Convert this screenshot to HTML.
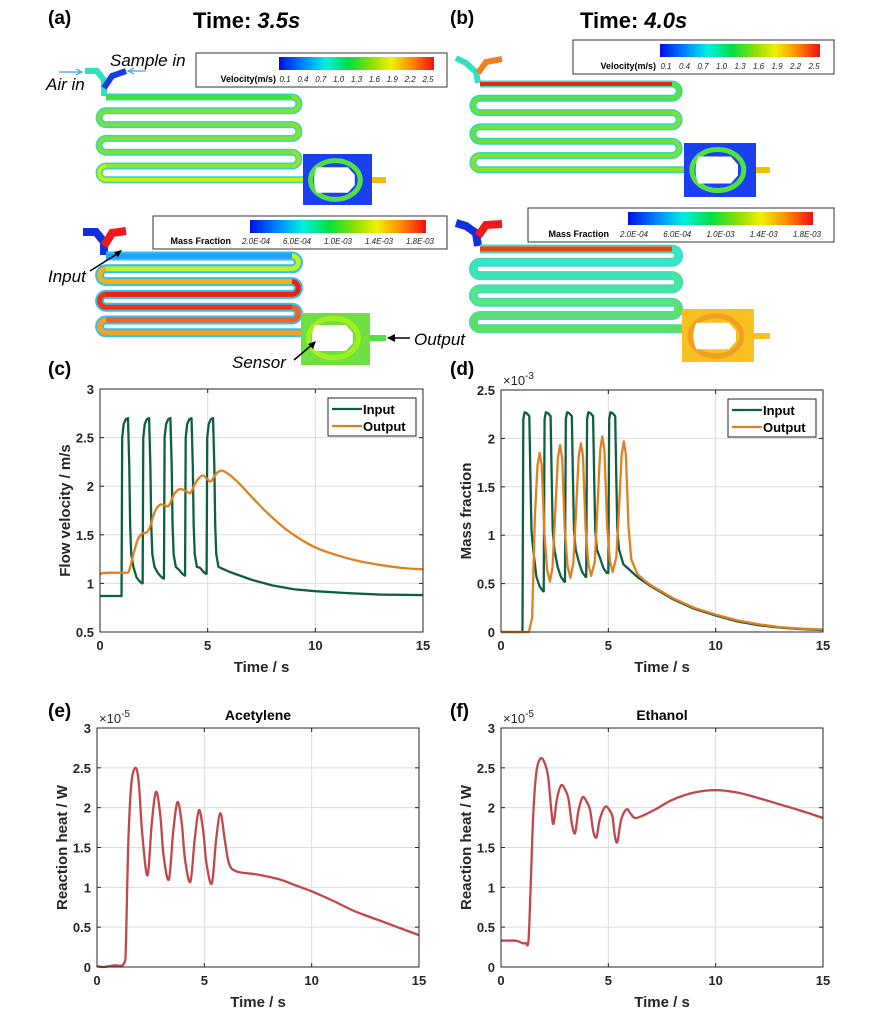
<!DOCTYPE html>
<html><head><meta charset="utf-8"><style>
body{margin:0;background:#fff}
svg{display:block;font-family:"Liberation Sans",Arial,sans-serif}
</style></head><body>
<svg id="s" width="890" height="1014" viewBox="0 0 890 1014" xmlns="http://www.w3.org/2000/svg">
<defs>
<linearGradient id="rb" x1="0" x2="1" y1="0" y2="0">
<stop offset="0" stop-color="#0010e0"/><stop offset="0.15" stop-color="#0080ff"/><stop offset="0.3" stop-color="#00f0e0"/><stop offset="0.45" stop-color="#00e040"/><stop offset="0.6" stop-color="#90e000"/><stop offset="0.72" stop-color="#f0f000"/><stop offset="0.85" stop-color="#ff9000"/><stop offset="1" stop-color="#f01010"/>
</linearGradient>
</defs>
<g font-weight="bold" fill="#000">
<text x="48" y="24" font-size="19">(a)</text>
<text x="450" y="24" font-size="19">(b)</text>
<text x="193" y="28" font-size="22">Time: <tspan font-style="italic">3.5s</tspan></text>
<text x="580" y="28" font-size="22">Time: <tspan font-style="italic">4.0s</tspan></text>
<text x="48" y="375" font-size="19">(c)</text>
<text x="450" y="375" font-size="19">(d)</text>
<text x="48" y="717" font-size="19">(e)</text>
<text x="450" y="717" font-size="19">(f)</text>
</g>
<g id="cfd"></g>
<g id="plots"></g>
</svg>
<script>
const NS="http://www.w3.org/2000/svg";
function el(p,t,a,txt){const e=document.createElementNS(NS,t);for(const k in a)e.setAttribute(k,a[k]);if(txt!==undefined)e.textContent=txt;p.appendChild(e);return e;}
const cfd=document.getElementById('cfd');
function serp(x1,x2,y0,sp,n,w,edge,cols,endX){
  let d=`M${x1} ${y0} H${x2}`;
  for(let i=1;i<n;i++){const y=y0+sp*i;const r=sp/2;
    if(i%2==1){d+=` A${r} ${r} 0 0 1 ${x2} ${y} H${x1}`;}else{d+=` A${r} ${r} 0 0 0 ${x1} ${y} H${i==n-1?endX:x2}`;}
  }
  el(cfd,'path',{d:d,fill:'none',stroke:edge,'stroke-width':w});
  for(let i=0;i<n;i++){const y=y0+sp*i;const xe=(i==n-1)?endX:x2;
    el(cfd,'path',{d:`M${x1} ${y} H${xe}`,fill:'none',stroke:cols[i],'stroke-width':w*0.55});}
  for(let i=1;i<n;i++){const y=y0+sp*(i-1);const r=sp/2;
    const d2=(i%2==1)?`M${x2} ${y} A${r} ${r} 0 0 1 ${x2} ${y+sp}`:`M${x1} ${y} A${r} ${r} 0 0 0 ${x1} ${y+sp}`;
    el(cfd,'path',{d:d2,fill:'none',stroke:cols[i],'stroke-width':w*0.55});}
}
function chamber(x,y,w,h,bg,ring,cy,outC,ox2){
  el(cfd,'rect',{x:x,y:y,width:w,height:h,fill:bg});
  el(cfd,'path',{d:`M${x+w} ${cy} H${ox2}`,stroke:outC,'stroke-width':6});
  el(cfd,'ellipse',{cx:x+w*0.47,cy:cy,rx:w*0.36,ry:h*0.38,fill:'none',stroke:ring,'stroke-width':5});
  el(cfd,'path',{d:`M${x+w*0.2} ${cy-h*0.25} H${x+w*0.65} L${x+w*0.75} ${cy-h*0.1} V${cy+h*0.1} L${x+w*0.65} ${cy+h*0.25} H${x+w*0.2} Q${x+w*0.12} ${cy} ${x+w*0.2} ${cy-h*0.25}Z`,fill:'#fff'});
}
el(cfd,'path',{d:'M85 71 L97 71 L104 80 L104 96',fill:'none',stroke:'#30e0c0','stroke-width':6});
el(cfd,'path',{d:'M104 88 L112 76 L126 71',fill:'none',stroke:'#1040e0','stroke-width':6});
serp(106,292,97,13.8,7,7,'#30d8c0',['#40e030','#90e020','#80e030','#90e020','#80e030','#a0e020','#c8f000'],303);
chamber(303,154,69,51,'#1a40f0','#50e040',180,'#f0c000',386);
el(cfd,'path',{d:'M83 232 L96 232 L104 242 L104 255',fill:'none',stroke:'#1030e0','stroke-width':8});
el(cfd,'path',{d:'M104 246 L112 233 L126 231',fill:'none',stroke:'#f01818','stroke-width':8});
serp(106,292,256,12.8,7,9,'#30c0f0',['#20a0ff','#c0f020','#f8b010','#f02010','#f03010','#f86020','#f8a020'],303);
chamber(301,313,69,52,'#70e040','#a0f020',338,'#50e040',386);
el(cfd,'path',{d:'M456 58 L466 63 L476 72 L478 83',fill:'none',stroke:'#30e0c0','stroke-width':6});
el(cfd,'path',{d:'M478 73 L486 62 L502 59',fill:'none',stroke:'#f08020','stroke-width':6});
serp(480,672,84,14.3,7,7,'#30d8c0',['#f02010','#60e030','#70e030','#80e030','#70e030','#80e030','#90e020'],684);
chamber(684,143,72,54,'#1a40f0','#50e040',170,'#f0c000',770);
el(cfd,'path',{d:'M456 223 L466 226 L476 233 L478 246',fill:'none',stroke:'#1030e0','stroke-width':8});
el(cfd,'path',{d:'M478 236 L486 225 L502 224',fill:'none',stroke:'#f01818','stroke-width':8});
serp(480,672,249,13.3,7,9,'#50d8b0',['#f04010','#30e8d0','#30e8c0','#40e8a0','#50e880','#60e060','#60e050'],682);
chamber(682,309,72,53,'#f8c020','#f0a020',336,'#f8c020',770);
function legend(x,y,w,h,bx,bw,label,ticks,fs,lx){
  el(cfd,'rect',{x:x,y:y,width:w,height:h,fill:'#fff',stroke:'#333','stroke-width':1});
  el(cfd,'rect',{x:bx,y:y+4,width:bw,height:13,fill:'url(#rb)'});
  el(cfd,'text',{x:lx,y:y+h-5,'font-size':fs,'font-weight':'bold','text-anchor':'end'},label);
  ticks.forEach((t,i)=>el(cfd,'text',{x:bx+6+(bw-12)*i/(ticks.length-1),y:y+h-5,'font-size':fs-1,'font-style':'italic','text-anchor':'middle',fill:'#222'},t));
}
legend(196,53,251,34,279,155,'Velocity(m/s)',['0.1','0.4','0.7','1.0','1.3','1.6','1.9','2.2','2.5'],9,276);
legend(573,40,261,34,660,160,'Velocity(m/s)',['0.1','0.4','0.7','1.0','1.3','1.6','1.9','2.2','2.5'],9,656);
legend(153,216,294,33,250,176,'Mass Fraction',['2.0E-04','6.0E-04','1.0E-03','1.4E-03','1.8E-03'],9,231);
legend(528,208,306,34,628,185,'Mass Fraction',['2.0E-04','6.0E-04','1.0E-03','1.4E-03','1.8E-03'],9,609);
const it={'font-size':17,'font-style':'italic'};
el(cfd,'text',Object.assign({x:110,y:66},it),'Sample in');
el(cfd,'text',Object.assign({x:46,y:90},it),'Air in');
el(cfd,'path',{d:'M59 72 H80 M146 71 H130',stroke:'#40a0e0','stroke-width':1.2,fill:'none'});
el(cfd,'path',{d:'M76 69 L82 72 L76 75 M134 68 L128 71 L134 74',stroke:'#40a0e0','stroke-width':1.2,fill:'none'});
el(cfd,'text',Object.assign({x:48,y:282},it),'Input');
el(cfd,'path',{d:'M90 271 L120 252',stroke:'#000','stroke-width':1.5});
el(cfd,'path',{d:'M114 252 L122 250 L118 257Z',fill:'#000'});
el(cfd,'text',Object.assign({x:232,y:368},it),'Sensor');
el(cfd,'path',{d:'M294 360 L314 343',stroke:'#000','stroke-width':1.5});
el(cfd,'path',{d:'M308 344 L316 341 L313 349Z',fill:'#000'});
el(cfd,'text',Object.assign({x:414,y:345},it),'Output');
el(cfd,'path',{d:'M388 338 H410',stroke:'#000','stroke-width':1.5});
el(cfd,'path',{d:'M387 338 L395 334 L395 342Z',fill:'#000'});

const P=document.getElementById('plots');
function plot(o){
  const {X0,X1,Y0,Y1,ymin,ymax,yt,ylab}=o;
  const sx=t=>X0+(t-0)/15*(X1-X0), sy=v=>Y1-(v-ymin)/(ymax-ymin)*(Y1-Y0);
  el(P,'rect',{x:X0,y:Y0,width:X1-X0,height:Y1-Y0,fill:'#fff'});
  [5,10].forEach(t=>el(P,'line',{x1:sx(t),x2:sx(t),y1:Y0,y2:Y1,stroke:'#dcdcdc','stroke-width':1}));
  yt.forEach(v=>{if(v>ymin&&v<ymax)el(P,'line',{x1:X0,x2:X1,y1:sy(v),y2:sy(v),stroke:'#dcdcdc','stroke-width':1});});
  [0,5,10,15].forEach(t=>{el(P,'line',{x1:sx(t),x2:sx(t),y1:Y1,y2:Y1-4,stroke:'#262626'});el(P,'line',{x1:sx(t),x2:sx(t),y1:Y0,y2:Y0+4,stroke:'#262626'});
    el(P,'text',{x:sx(t),y:Y1+18,'font-size':13,'font-weight':'bold','text-anchor':'middle',fill:'#262626'},t);});
  yt.forEach((v,i)=>{el(P,'line',{x1:X0,x2:X0+4,y1:sy(v),y2:sy(v),stroke:'#262626'});el(P,'line',{x1:X1,x2:X1-4,y1:sy(v),y2:sy(v),stroke:'#262626'});
    el(P,'text',{x:X0-6,y:sy(v)+5,'font-size':13,'font-weight':'bold','text-anchor':'end',fill:'#262626'},o.ytl[i]);});
  el(P,'text',{x:(X0+X1)/2,y:Y1+40,'font-size':15,'font-weight':'bold','text-anchor':'middle',fill:'#262626'},'Time / s');
  el(P,'text',{x:0,y:0,'font-size':15,'font-weight':'bold','text-anchor':'middle',fill:'#262626',transform:`translate(${X0-30},${(Y0+Y1)/2}) rotate(-90)`},ylab);
  if(o.title)el(P,'text',{x:(X0+X1)/2,y:Y0-8,'font-size':14,'font-weight':'bold','text-anchor':'middle',fill:'#000'},o.title);
  if(o.exp){const t=el(P,'text',{x:X0+2,y:Y0-5,'font-size':13,fill:'#262626'},'×10');el(t,'tspan',{dy:-6,'font-size':10},o.exp);}
  o.series.forEach(s=>{
    const pts=s.d.map(p=>[sx(p[0]),sy(p[1])]);
    let d;
    if(s.smooth){d=`M${pts[0][0]} ${pts[0][1]}`;for(let i=0;i<pts.length-1;i++){const p0=pts[Math.max(0,i-1)],p1=pts[i],p2=pts[i+1],p3=pts[Math.min(pts.length-1,i+2)];
      d+=` C${p1[0]+(p2[0]-p0[0])/6} ${p1[1]+(p2[1]-p0[1])/6} ${p2[0]-(p3[0]-p1[0])/6} ${p2[1]-(p3[1]-p1[1])/6} ${p2[0]} ${p2[1]}`;}}
    else d='M'+pts.map(p=>p.join(' ')).join(' L');
    el(P,'path',{d:d,fill:'none',stroke:s.c,'stroke-width':2.3,'stroke-linejoin':'round'});
  });
  el(P,'rect',{x:X0,y:Y0,width:X1-X0,height:Y1-Y0,fill:'none',stroke:'#262626','stroke-width':1});
  if(o.legend){const lx=X1-95,ly=Y0+9;
    el(P,'rect',{x:lx,y:ly,width:88,height:38,fill:'#fff',stroke:'#262626'});
    [['Input','#0d5f44'],['Output','#e08020']].forEach((e,i)=>{const yy=ly+11+i*17;
      el(P,'line',{x1:lx+4,x2:lx+34,y1:yy,y2:yy,stroke:e[1],'stroke-width':2.3});
      el(P,'text',{x:lx+35,y:yy+5,'font-size':13,'font-weight':'bold',fill:'#000'},e[0]);});}
}
const G='#0d5f44',O='#e08020',R='#c0474c';
// (c) input
let inC=[[0,0.87],[1.0,0.87]];
const cs=[1.0,1.98,2.97,3.95,4.95], cl=[1.0,1.05,1.08,1.1];
cs.forEach((s,k)=>{
  if(k>0)inC.push([s,cl[k-1]]);
  inC.push([s+0.03,2.5],[s+0.1,2.64],[s+0.2,2.69],[s+0.3,2.7],[s+0.36,2.2],[s+0.4,1.6],[s+0.45,1.3],[s+0.55,1.17]);
  if(k<4){const L=cl[k];inC.push([s+0.7,L+0.06],[s+0.85,L+0.02],[s+0.96,L]);}
});
inC=inC.concat([[5.7,1.15],[6,1.12],[7,1.04],[8,0.98],[9,0.94],[10,0.92],[11.5,0.9],[13,0.885],[15,0.88]]);
const outC=[[0,1.09],[0.1,1.105],[0.5,1.11],[1.2,1.11],[1.35,1.13],[1.55,1.3],[1.75,1.45],[1.95,1.51],[2.2,1.53],[2.35,1.6],[2.55,1.74],[2.8,1.81],[3.05,1.8],[3.2,1.8],[3.45,1.92],[3.7,1.97],[4.0,1.95],[4.2,1.93],[4.45,2.04],[4.75,2.11],[5.0,2.07],[5.15,2.05],[5.4,2.13],[5.65,2.16],[6.0,2.12],[6.5,2.02],[7,1.9],[7.7,1.74],[8.5,1.58],[9.2,1.47],[10,1.37],[11,1.29],[12,1.23],[13,1.19],[14,1.16],[15,1.145]];
plot({X0:100,X1:423,Y0:389,Y1:632,ymin:0.5,ymax:3,yt:[0.5,1,1.5,2,2.5,3],ytl:['0.5','1','1.5','2','2.5','3'],ylab:'Flow velocity / m/s',legend:1,
 series:[{d:inC,c:G},{d:outC,c:O,smooth:1}]});
// (d) input
let inD=[[0,0],[1.0,0]];
const ds=[1.0,1.99,2.98,3.97,5.0], dl=[0.42,0.52,0.57,0.61];
ds.forEach((s,k)=>{
  if(k>0)inD.push([s,dl[k-1]]);
  inD.push([s+0.04,2.2],[s+0.1,2.27],[s+0.2,2.26],[s+0.32,2.23],[s+0.37,1.6],[s+0.42,1.05],[s+0.5,0.85]);
  if(k<4){const L=dl[k];inD.push([s+0.65,L+0.15],[s+0.8,L+0.05],[s+0.96,L]);}
});
inD=inD.concat([[5.7,0.7],[5.9,0.66],[6.1,0.62],[6.4,0.56],[7,0.47],[8,0.34],[9,0.24],[10,0.17],[11,0.11],[12,0.07],[13,0.045],[14,0.03],[15,0.02]]);
// (d) output
let outD=[[0,0],[1.3,0]];
const op=[[1.8,1.85],[2.75,1.93],[3.72,1.95],[4.72,2.02],[5.72,1.97]], od=[0.52,0.56,0.58,0.62];
op.forEach((p,k)=>{const c=p[0],h=p[1];
  outD.push([c-0.35,k==0?0.15:od[k-1]+0.15],[c-0.22,h*0.65],[c-0.1,h*0.93],[c,h],[c+0.1,h*0.93],[c+0.22,h*0.55],[c+0.35,k<4?od[k]+0.12:0.75]);
  if(k<4)outD.push([c+0.48,od[k]]);
});
outD=outD.concat([[6.35,0.6],[6.7,0.53],[7,0.48],[8,0.35],[9,0.25],[10,0.18],[11,0.12],[12,0.08],[13,0.05],[14,0.035],[15,0.025]]);
plot({X0:501,X1:823,Y0:390,Y1:632,ymin:0,ymax:2.5,yt:[0,0.5,1,1.5,2,2.5],ytl:['0','0.5','1','1.5','2','2.5'],ylab:'Mass fraction',legend:1,exp:'-3',
 series:[{d:inD,c:G},{d:outD,c:O}]});
// (e)
const eD=[[0,0.01],[0.3,0.0],[0.8,0.02],[1.25,0.04],[1.35,0.3],[1.45,1.5],[1.6,2.3],[1.8,2.5],[1.95,2.3],[2.1,1.7],[2.35,1.15],[2.55,1.8],[2.75,2.2],[2.95,1.9],[3.1,1.4],[3.35,1.1],[3.55,1.7],[3.75,2.07],[3.95,1.8],[4.1,1.35],[4.35,1.07],[4.55,1.6],[4.75,1.97],[4.95,1.7],[5.1,1.3],[5.35,1.05],[5.55,1.6],[5.75,1.93],[5.95,1.6],[6.15,1.3],[6.5,1.2],[7.5,1.16],[8.5,1.1],[9.3,1.02],[10,0.95],[11,0.83],[12,0.7],[13,0.6],[14,0.5],[15,0.4]];
plot({X0:97,X1:419,Y0:728,Y1:967,ymin:0,ymax:3,yt:[0,0.5,1,1.5,2,2.5,3],ytl:['0','0.5','1','1.5','2','2.5','3'],ylab:'Reaction heat / W',title:'Acetylene',exp:'-5',
 series:[{d:eD,c:R,smooth:1}]});
// (f)
const fD=[[0,0.33],[0.7,0.33],[1.0,0.3],[1.15,0.3],[1.28,0.33],[1.38,1.0],[1.5,1.9],[1.65,2.45],[1.85,2.62],[2.05,2.55],[2.2,2.38],[2.35,1.95],[2.45,1.8],[2.6,2.1],[2.8,2.28],[3.0,2.22],[3.15,2.1],[3.3,1.8],[3.45,1.68],[3.6,1.95],[3.8,2.13],[4.0,2.07],[4.15,1.97],[4.3,1.7],[4.45,1.63],[4.6,1.85],[4.85,2.01],[5.05,1.97],[5.2,1.88],[5.3,1.65],[5.42,1.57],[5.6,1.85],[5.85,1.98],[6.05,1.92],[6.25,1.87],[6.6,1.9],[7.2,1.98],[8,2.1],[9,2.19],[10,2.22],[11,2.19],[12,2.12],[13,2.04],[14,1.96],[15,1.87]];
plot({X0:501,X1:823,Y0:728,Y1:967,ymin:0,ymax:3,yt:[0,0.5,1,1.5,2,2.5,3],ytl:['0','0.5','1','1.5','2','2.5','3'],ylab:'Reaction heat / W',title:'Ethanol',exp:'-5',
 series:[{d:fD,c:R,smooth:1}]});
</script>
</body></html>
